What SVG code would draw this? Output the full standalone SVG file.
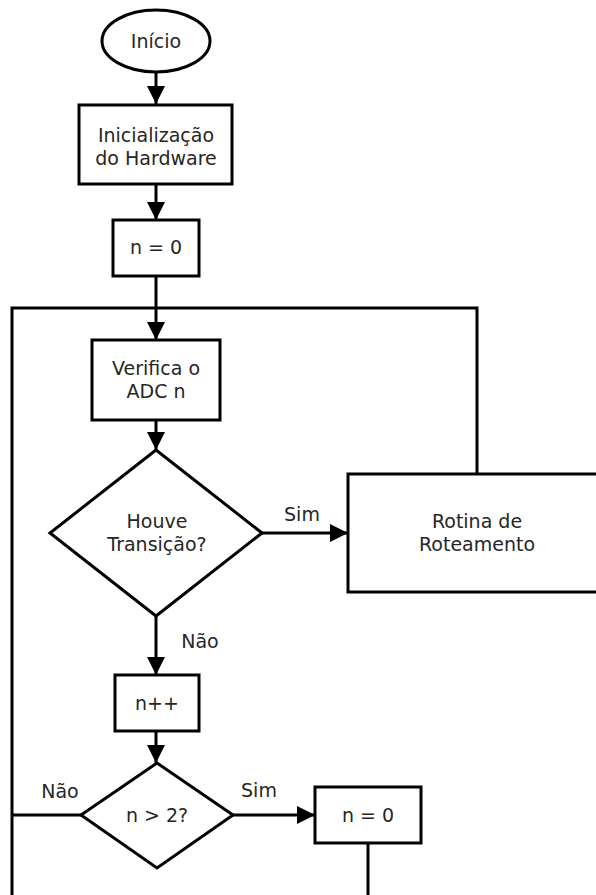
<svg xmlns="http://www.w3.org/2000/svg" width="596" height="895" viewBox="0 0 596 895">
  <style>
    .shape { fill: #ffffff; stroke: #000000; stroke-width: 3; }
    .wire { fill: none; stroke: #000000; stroke-width: 3; }
    .lbl { font-family: "DejaVu Sans", "Liberation Sans", sans-serif; font-size: 19px; fill: #262626; text-anchor: middle; }
  </style>
  <defs>
    <marker id="arrow" markerUnits="userSpaceOnUse" markerWidth="20" markerHeight="20" refX="18" refY="9" orient="auto">
      <path d="M0,0 L18,9 L0,18 Z" fill="#000000"/>
    </marker>
  </defs>

  <rect width="596" height="895" fill="#ffffff"/>

  <!-- connectors -->
  <g id="connectors">
    <path class="wire" d="M156,72 V104" marker-end="url(#arrow)"/>
    <path class="wire" d="M156,184 V220" marker-end="url(#arrow)"/>
    <path class="wire" d="M156,276 V340" marker-end="url(#arrow)"/>
    <path class="wire" d="M156,420 V450" marker-end="url(#arrow)"/>
    <path class="wire" d="M262,533 H348" marker-end="url(#arrow)"/>
    <path class="wire" d="M156,616 V675" marker-end="url(#arrow)"/>
    <path class="wire" d="M156,731 V763" marker-end="url(#arrow)"/>
    <path class="wire" d="M233,815 H315" marker-end="url(#arrow)"/>
    <!-- loop back from the routing routine -->
    <path class="wire" d="M477,474 V308 H12 V895"/>
    <!-- "Não" branch of n > 2? joins the loop line -->
    <path class="wire" d="M81,815 H12"/>
    <path class="wire" d="M368,843 V895"/>
    <text class="lbl" x="302" y="521">Sim</text>
    <text class="lbl" x="200" y="648">Não</text>
    <text class="lbl" x="60" y="798">Não</text>
    <text class="lbl" x="259" y="797">Sim</text>
  </g>

  <g id="inicio">
    <ellipse class="shape" cx="156" cy="41" rx="54" ry="31"/>
    <text class="lbl" x="156" y="48">Início</text>
  </g>

  <g id="init-hw">
    <rect class="shape" x="79" y="105" width="153" height="79"/>
    <text class="lbl" x="156" y="142">Inicialização</text>
    <text class="lbl" x="156" y="165">do Hardware</text>
  </g>

  <g id="zera-n">
    <rect class="shape" x="113" y="220" width="86" height="56"/>
    <text class="lbl" x="156" y="254">n = 0</text>
  </g>

  <g id="verifica-adc">
    <rect class="shape" x="92" y="340" width="128" height="80"/>
    <text class="lbl" x="156" y="375">Verifica o</text>
    <text class="lbl" x="156" y="398">ADC n</text>
  </g>

  <g id="transicao">
    <polygon class="shape" points="156,450 262,533 156,616 50,533"/>
    <text class="lbl" x="157" y="528">Houve</text>
    <text class="lbl" x="157" y="551">Transição?</text>
  </g>

  <g id="roteamento">
    <rect class="shape" x="348" y="474" width="258" height="118"/>
    <text class="lbl" x="477" y="528">Rotina de</text>
    <text class="lbl" x="477" y="551">Roteamento</text>
  </g>

  <g id="incrementa">
    <rect class="shape" x="115" y="675" width="84" height="56"/>
    <text class="lbl" x="157" y="710">n++</text>
  </g>

  <g id="limite">
    <polygon class="shape" points="157,763 233,815 157,868 81,815"/>
    <text class="lbl" x="157" y="822">n &gt; 2?</text>
  </g>

  <g id="reinicia-n">
    <rect class="shape" x="315" y="787" width="106" height="56"/>
    <text class="lbl" x="368" y="822">n = 0</text>
  </g>
</svg>
